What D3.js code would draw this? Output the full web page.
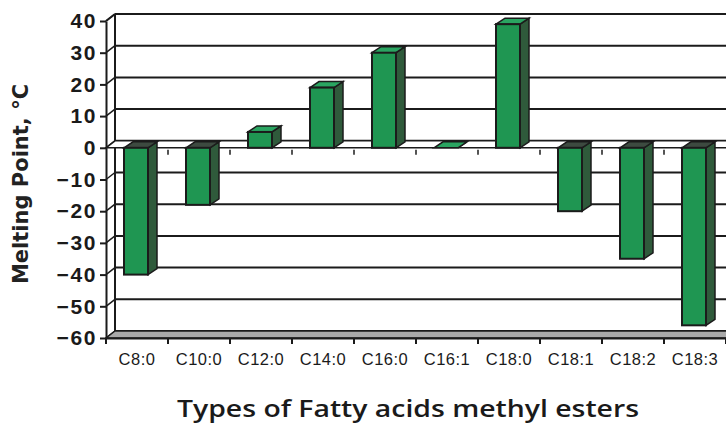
<!DOCTYPE html>
<html>
<head>
<meta charset="utf-8">
<script src="https://cdn.jsdelivr.net/npm/d3@7/dist/d3.min.js"></script>
<style>
  html, body { margin: 0; padding: 0; background: #fff; }
  svg { display: block; }
</style>
</head>
<body>
<svg id="chart"></svg>
<script>
// melting points of fatty acid methyl esters
var categories = ['C8:0', 'C10:0', 'C12:0', 'C14:0', 'C16:0', 'C16:1', 'C18:0', 'C18:1', 'C18:2', 'C18:3'];
var meltingPoints = [-40, -18, 5, 19, 30, 0, 39, -20, -35, -56];
var yTicks = [40, 30, 20, 10, 0, -10, -20, -30, -40, -50, -60];
var yTitle = 'Melting Point, \u00B0C';
var xTitle = 'Types of Fatty acids methyl esters';

var config = {
    width: 726,
    height: 427,
    left: 106,
    right: 726,
    top: 21,
    bottom: 338,
    depthX: 9,      // 3d shift of the back wall
    depthY: -7,
    barDX: 9,       // 3d shift of a bar's side
    barDY: -6,
    barWidth: 24,
    ink: '#1b1b1b',
    green: '#1f9652',
    greenTop: '#2aa561',
    greenSide: '#2f5a3b',
    darkTop: '#3d4a40'
};

var svg = d3.select('#chart')
    .attr('width', config.width)
    .attr('height', config.height);

var x = d3.scaleBand()
    .domain(categories)
    .range([config.left, config.right]);

var y = d3.scaleLinear()
    .domain([-60, 40])
    .range([config.bottom, config.top]);

var dx = config.depthX, dy = config.depthY;
var ink = config.ink;

function poly(points) {
    return 'M' + points.map(function(p) { return p[0] + ',' + p[1]; }).join('L') + 'Z';
}

// back wall gridlines + left wall diagonals
var grid = svg.append('g');
grid.selectAll('line.back')
    .data(yTicks)
    .enter()
    .append('line')
    .attr('x1', config.left + dx)
    .attr('x2', config.width + 20)
    .attr('y1', function(d) { return y(d) + dy; })
    .attr('y2', function(d) { return y(d) + dy; })
    .attr('stroke', ink)
    .attr('stroke-width', 2);

grid.selectAll('line.side')
    .data(yTicks)
    .enter()
    .append('line')
    .attr('x1', config.left)
    .attr('x2', config.left + dx)
    .attr('y1', function(d) { return y(d); })
    .attr('y2', function(d) { return y(d) + dy; })
    .attr('stroke', ink)
    .attr('stroke-width', 1.5);

// back wall left edge
grid.append('line')
    .attr('x1', config.left + dx).attr('x2', config.left + dx)
    .attr('y1', y(40) + dy).attr('y2', y(-60) + dy)
    .attr('stroke', ink).attr('stroke-width', 2);

// floor slab
svg.append('path')
    .attr('d', poly([
        [config.left, y(-60)],
        [config.width + 20, y(-60)],
        [config.width + 20, y(-60) + dy],
        [config.left + dx, y(-60) + dy]
    ]))
    .attr('fill', '#a9a9a9')
    .attr('stroke', ink)
    .attr('stroke-width', 1.5);

// zero plane strip
svg.append('path')
    .attr('d', poly([
        [config.left, y(0)],
        [config.width + 20, y(0)],
        [config.width + 20, y(0) + dy],
        [config.left + dx, y(0) + dy]
    ]))
    .attr('fill', '#fff')
    .attr('stroke', ink)
    .attr('stroke-width', 1.5);

// ticks on the zero line, at the category boundaries
var bounds = categories.map(function(c) { return x(c); });
svg.selectAll('line.zt')
    .data(bounds.slice(1))
    .enter()
    .append('line')
    .attr('x1', function(d) { return d; })
    .attr('x2', function(d) { return d; })
    .attr('y1', y(0) + 2)
    .attr('y2', y(0) + 7)
    .attr('stroke', ink)
    .attr('stroke-width', 1.5);

// bars
var bars = svg.append('g');
categories.forEach(function(c, i) {
    var v = meltingPoints[i];
    var x0 = x(c) + x.bandwidth() / 2 - 1 - config.barWidth / 2;
    var x1 = x0 + config.barWidth;
    var y0 = y(0);
    var yv = y(v);
    var top = Math.min(y0, yv), bot = Math.max(y0, yv);
    var bdx = config.barDX, bdy = config.barDY;
    var g = bars.append('g');

    // side face
    g.append('path')
        .attr('d', poly([[x1, top], [x1 + bdx, top + bdy], [x1 + bdx, bot + bdy], [x1, bot]]))
        .attr('fill', config.greenSide)
        .attr('stroke', ink)
        .attr('stroke-width', 1.5);
    // top face
    g.append('path')
        .attr('d', poly([[x0, top], [x0 + bdx, top + bdy], [x1 + bdx, top + bdy], [x1, top]]))
        .attr('fill', v >= 0 ? config.greenTop : config.darkTop)
        .attr('stroke', ink)
        .attr('stroke-width', 1.5);
    // front face
    if (bot - top > 0) {
        g.append('rect')
            .attr('x', x0)
            .attr('y', top)
            .attr('width', config.barWidth)
            .attr('height', bot - top)
            .attr('fill', config.green)
            .attr('stroke', ink)
            .attr('stroke-width', 2);
    }
});

// left axis
var yAxis = svg.append('g')
    .attr('transform', 'translate(' + config.left + ',0)')
    .call(d3.axisLeft(y).tickValues(yTicks).tickSizeInner(6).tickSizeOuter(0).tickPadding(3));
yAxis.select('.domain').attr('stroke', ink).attr('stroke-width', 2);
yAxis.selectAll('.tick line').attr('stroke', ink).attr('stroke-width', 2);
yAxis.selectAll('.tick text')
    .attr('fill', '#1a1a1a')
    .style('font-family', '"Liberation Sans", Arial, sans-serif')
    .style('font-weight', 'bold')
    .style('font-size', '21px')
    .style('letter-spacing', '1.6px');

// top edge of left wall
svg.append('line')
    .attr('x1', config.left).attr('x2', config.left + dx)
    .attr('y1', y(40)).attr('y2', y(40) + dy)
    .attr('stroke', ink).attr('stroke-width', 2);

// bottom axis
var xAxis = svg.append('g')
    .attr('transform', 'translate(0,' + config.bottom + ')')
    .call(d3.axisBottom(x).tickSize(0).tickPadding(15));
xAxis.select('.domain').attr('stroke', ink).attr('stroke-width', 2);
xAxis.selectAll('.tick text')
    .attr('fill', '#1a1a1a')
    .style('font-family', '"Liberation Sans", Arial, sans-serif')
    .style('font-size', '16.5px')
    .style('letter-spacing', '0.5px');
xAxis.selectAll('line.bt')
    .data(bounds.concat([config.right]))
    .enter()
    .append('line')
    .attr('x1', function(d) { return d; })
    .attr('x2', function(d) { return d; })
    .attr('y1', 0)
    .attr('y2', 6)
    .attr('stroke', ink)
    .attr('stroke-width', 2);

// titles
svg.append('text')
    .attr('transform', 'translate(28,184) rotate(-90)')
    .attr('text-anchor', 'middle')
    .attr('fill', '#222')
    .style('font-family', '"DejaVu Sans", sans-serif')
    .style('font-weight', 'bold')
    .style('font-size', '21px')
    .text(yTitle);

svg.append('text')
    .attr('x', 408)
    .attr('y', 417)
    .attr('text-anchor', 'middle')
    .attr('fill', '#1a1a1a')
    .attr('textLength', 462)
    .attr('lengthAdjust', 'spacingAndGlyphs')
    .style('font-family', '"Comic Sans MS", "Open Sans", sans-serif')
    .style('font-size', '23px')
    .style('font-weight', '600')
    .text(xTitle);
</script>
</body>
</html>
